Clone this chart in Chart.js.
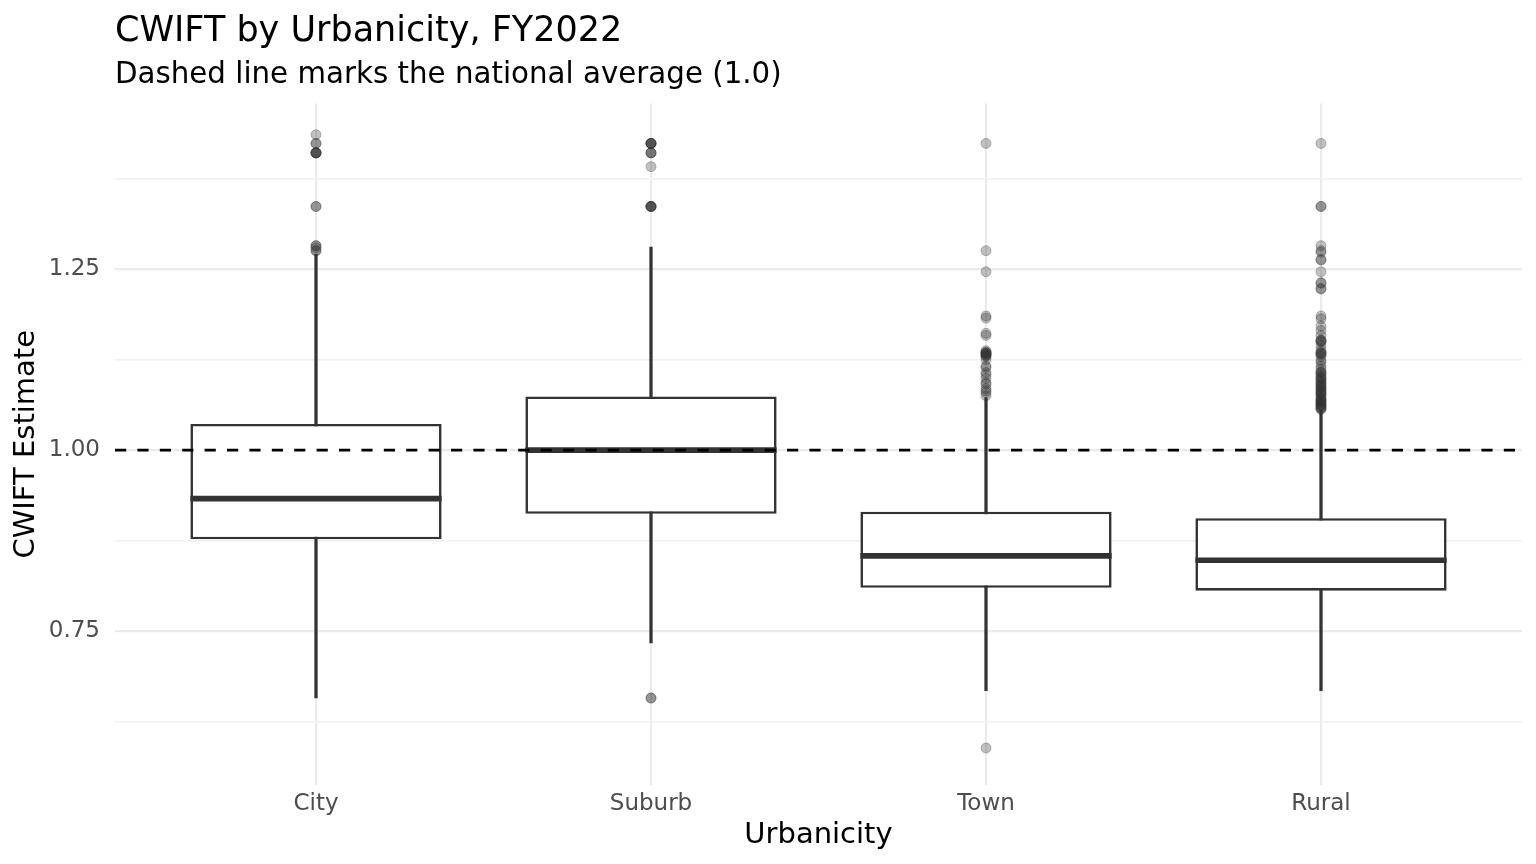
<!DOCTYPE html>
<html>
<head>
<meta charset="utf-8">
<script src="https://cdn.jsdelivr.net/npm/chart.js@4.4.1/dist/chart.umd.min.js"></script>
<style>
  html, body { margin: 0; padding: 0; background: #ffffff; }
  #wrap { width: 1536px; height: 864px; position: relative; }
</style>
</head>
<body>
<div id="wrap"><canvas id="myChart"></canvas></div>
<script>
// DATA
const categories = ['City', 'Suburb', 'Town', 'Rural'];
const q1 = [0.877, 0.912, 0.810, 0.806];
const medians = [0.933, 1.000, 0.854, 0.848];
const q3 = [1.036, 1.074, 0.915, 0.906];
const whiskerLow = [0.658, 0.734, 0.668, 0.668];
const whiskerHigh = [1.270, 1.280, 1.072, 1.055];

const cityOutliers = [1.435, 1.423, 1.423, 1.41, 1.41, 1.41, 1.41, 1.41,
    1.336, 1.336, 1.282, 1.282, 1.279, 1.275, 1.275];
const suburbOutliers = [1.423, 1.423, 1.423, 1.423, 1.423, 1.41, 1.41, 1.41,
    1.391, 1.336, 1.336, 1.336, 1.336, 1.336, 0.658, 0.658];
const townOutliers = [1.423, 1.275, 1.246, 1.185, 1.182, 1.161, 1.158, 1.137,
    1.135, 1.134, 1.134, 1.133, 1.132, 1.131, 1.130, 1.129, 1.125, 1.116,
    1.114, 1.107, 1.104, 1.099, 1.093, 1.091, 1.085, 1.082, 1.079, 1.075, 0.589];
const ruralOutliers = [1.423, 1.336, 1.336, 1.282, 1.273, 1.275, 1.263, 1.262,
    1.246, 1.23, 1.231, 1.223, 1.222, 1.185, 1.181, 1.171, 1.165, 1.158,
    1.152, 1.151, 1.15, 1.149, 1.144, 1.138, 1.135, 1.134, 1.133, 1.132,
    1.129, 1.124, 1.121, 1.116, 1.112, 1.108, 1.107, 1.106, 1.103, 1.101,
    1.099, 1.098, 1.096, 1.094, 1.092, 1.091, 1.089, 1.087, 1.086, 1.084,
    1.083, 1.081, 1.079, 1.078, 1.077, 1.075, 1.072, 1.071, 1.069, 1.068,
    1.067, 1.066, 1.064, 1.063, 1.062, 1.061, 1.059, 1.058, 1.057, 1.056];
const outlierGroups = [cityOutliers, suburbOutliers, townOutliers, ruralOutliers];

const yTicks = [0.625, 0.75, 0.875, 1.0, 1.125, 1.25, 1.375];
const yLabelled = [0.75, 1.0, 1.25];
const referenceValue = 1.0;

// BUILD DATASETS
const boxData = categories.map((c, i) => ({ x: i + 1, y: [q1[i], q3[i]] }));
const whiskerData = categories.map((c, i) => ({ x: i + 1, y: [whiskerLow[i], whiskerHigh[i]] }));
let outlierData = [];
outlierGroups.forEach((group, i) => {
    group.forEach(v => outlierData.push({ x: i + 1, y: v }));
});

// medians + dashed national average line
const boxExtras = {
    id: 'boxExtras',
    afterDatasetsDraw(chart) {
        const ctx = chart.ctx;
        const yScale = chart.scales.y;
        const area = chart.chartArea;
        const meta = chart.getDatasetMeta(1);
        ctx.save();
        ctx.strokeStyle = '#333333';
        ctx.lineWidth = 5.6;
        ctx.lineCap = 'butt';
        meta.data.forEach((bar, i) => {
            const p = bar.getProps(['x', 'width'], true);
            const y = yScale.getPixelForValue(medians[i]);
            ctx.beginPath();
            ctx.moveTo(p.x - p.width / 2, y);
            ctx.lineTo(p.x + p.width / 2, y);
            ctx.stroke();
        });
        // reference line
        const yRef = yScale.getPixelForValue(referenceValue);
        ctx.strokeStyle = '#000000';
        ctx.lineWidth = 2.6;
        ctx.setLineDash([11.2, 11.2]);
        ctx.beginPath();
        ctx.moveTo(area.left, yRef);
        ctx.lineTo(area.right, yRef);
        ctx.stroke();
        ctx.restore();
    }
};

Chart.defaults.font.family = "'DejaVu Sans', sans-serif";

const ctx = document.getElementById('myChart').getContext('2d');
const myChart = new Chart(ctx, {
    type: 'bar',
    data: {
        datasets: [
            {
                type: 'scatter',
                label: 'outliers',
                data: outlierData,
                pointRadius: 5,
                pointBackgroundColor: 'rgba(51, 51, 51, 0.3)',
                pointBorderColor: 'rgba(51, 51, 51, 0.3)',
                pointBorderWidth: 1,
                order: 0
            },
            {
                label: 'box',
                data: boxData,
                backgroundColor: '#ffffff',
                borderColor: '#333333',
                borderWidth: 2.6,
                borderSkipped: false,
                grouped: false,
                barPercentage: 0.75,
                categoryPercentage: 1,
                order: 1
            },
            {
                label: 'whisker',
                data: whiskerData,
                backgroundColor: '#333333',
                borderWidth: 0,
                barThickness: 2.6,
                grouped: false,
                order: 2
            }
        ]
    },
    options: {
        responsive: true,
        maintainAspectRatio: false,
        devicePixelRatio: 1,
        animation: false,
        events: [],
        layout: { padding: { left: 0, right: 14, top: 0, bottom: 0 } },
        plugins: {
            legend: { display: false },
            tooltip: { enabled: false },
            title: {
                display: true,
                text: 'CWIFT by Urbanicity, FY2022',
                align: 'start',
                fullSize: false,
                color: '#000000',
                font: { size: 35, weight: 'normal' },
                padding: { top: 11, bottom: 0 }
            },
            subtitle: {
                display: true,
                text: 'Dashed line marks the national average (1.0)',
                align: 'start',
                fullSize: false,
                color: '#000000',
                font: { size: 29.3, weight: 'normal' },
                padding: { top: 5, bottom: 10.4 }
            }
        },
        scales: {
            x: {
                type: 'linear',
                min: 0.4,
                max: 4.6,
                offset: false,
                afterBuildTicks: scale => {
                    scale.ticks = categories.map((c, i) => ({ value: i + 1 }));
                },
                afterFit: scale => { scale.height = 79; },
                ticks: {
                    padding: 5,
                    color: '#4d4d4d',
                    font: { size: 23 },
                    callback: value => categories[value - 1]
                },
                grid: { color: '#ebebeb', lineWidth: 2.2, drawTicks: false, offset: false },
                border: { display: false },
                title: {
                    display: true,
                    text: 'Urbanicity',
                    color: '#000000',
                    font: { size: 29 },
                    padding: { top: 0, bottom: 11.6 }
                }
            },
            y: {
                type: 'linear',
                min: 0.538,
                max: 1.478,
                afterBuildTicks: scale => {
                    scale.ticks = yTicks.map(v => ({ value: v }));
                },
                afterFit: scale => { scale.width = 115; },
                ticks: {
                    padding: 15,
                    color: '#4d4d4d',
                    font: { size: 23 },
                    callback: value => yLabelled.includes(value) ? value.toFixed(2) : ''
                },
                grid: {
                    color: c => yLabelled.includes(c.tick.value) ? '#ebebeb' : '#f0f0f0',
                    lineWidth: c => yLabelled.includes(c.tick.value) ? 2.2 : 1.4,
                    drawTicks: false
                },
                border: { display: false },
                title: {
                    display: true,
                    text: 'CWIFT Estimate',
                    color: '#000000',
                    font: { size: 29 },
                    padding: { top: 9.5, bottom: 0 }
                }
            }
        }
    },
    plugins: [boxExtras]
});
</script>
</body>
</html>
